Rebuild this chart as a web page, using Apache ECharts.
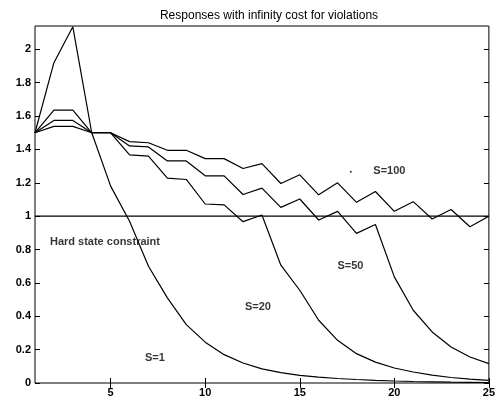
<!DOCTYPE html>
<html>
<head>
<meta charset="utf-8">
<script src="https://cdn.jsdelivr.net/npm/echarts@6/dist/echarts.min.js"></script>
<style>
  html, body { margin: 0; padding: 0; background: #fff; }
  #chart { width: 498px; height: 399px; }
</style>
</head>
<body>
<div id="chart"></div>
<script>
// time steps 1..25
var steps = [1,2,3,4,5,6,7,8,9,10,11,12,13,14,15,16,17,18,19,20,21,22,23,24,25];

var s1 = [1.5, 1.92, 2.135, 1.5, 1.18, 0.97, 0.70, 0.51, 0.35, 0.245, 0.17, 0.12, 0.085,
  0.062, 0.046, 0.035, 0.027, 0.021, 0.016, 0.012, 0.009, 0.007, 0.005, 0.004, 0.003];
var s20 = [1.5, 1.636, 1.636, 1.5, 1.5, 1.367, 1.36, 1.228, 1.22, 1.073, 1.068, 0.967, 1.007,
  0.706, 0.556, 0.376, 0.256, 0.176, 0.125, 0.09, 0.066, 0.047, 0.033, 0.023, 0.016];
var s50 = [1.5, 1.574, 1.574, 1.5, 1.5, 1.421, 1.415, 1.331, 1.331, 1.242, 1.242, 1.13, 1.168,
  1.053, 1.103, 0.977, 1.029, 0.897, 0.95, 0.636, 0.436, 0.306, 0.216, 0.156, 0.116];
var s100 = [1.5, 1.538, 1.538, 1.5, 1.5, 1.447, 1.44, 1.395, 1.395, 1.345, 1.345, 1.286, 1.315,
  1.196, 1.248, 1.128, 1.2, 1.083, 1.148, 1.029, 1.087, 0.983, 1.04, 0.937, 1.0];

var constraint = [[1, 1], [25, 1]];

var xTicks = [5, 10, 15, 20, 25];
var yTicks = [0, 0.2, 0.4, 0.6, 0.8, 1, 1.2, 1.4, 1.6, 1.8, 2];

// text annotations: [x, y, text]
var notes = [
  [1.79, 0.845, 'Hard state constraint'],
  [19.74, 1.27, 'S=100'],
  [17.68, 0.70, 'S=50'],
  [12.79, 0.455, 'S=20'],
  [7.34, 0.15, 'S=1']
];
var speck = [[17.7, 1.266]];

var chart = echarts.init(document.getElementById('chart'), null, { renderer: 'canvas' });

function pairs(ys) {
  return ys.map(function (v, i) { return [steps[i], v]; });
}

function line(name, ys) {
  return {
    name: name,
    type: 'line',
    data: pairs(ys),
    showSymbol: false,
    silent: true,
    lineStyle: { color: '#000', width: 1.2 }
  };
}

var font = 'Liberation Sans, Arial, sans-serif';

var baseX = {
  type: 'value', min: 1, max: 25,
  axisLine: { show: false },
  splitLine: { show: false },
  axisTick: { show: true, inside: true, length: 5, lineStyle: { color: '#000' }, customValues: xTicks }
};
var baseY = {
  type: 'value', min: 0, max: 2.14,
  axisLine: { show: false },
  splitLine: { show: false },
  axisTick: { show: true, inside: true, length: 5, lineStyle: { color: '#000' }, customValues: yTicks }
};

var option = {
  backgroundColor: '#fff',
  animation: false,
  title: {
    text: 'Responses with infinity cost for violations',
    left: 264, top: 5, textAlign: 'center',
    textStyle: { fontFamily: font, fontSize: 12, fontWeight: 'normal', color: '#000' }
  },
  grid: {
    left: 35, right: 8, top: 26, bottom: 16,
    show: true, borderColor: '#000', borderWidth: 1, backgroundColor: 'transparent'
  },
  xAxis: [
    Object.assign({}, baseX, {
      position: 'bottom',
      axisLabel: { customValues: xTicks, color: '#000', fontFamily: font, fontSize: 11, fontWeight: 'bold', margin: 4 }
    }),
    Object.assign({}, baseX, { position: 'top', axisLabel: { show: false } })
  ],
  yAxis: [
    Object.assign({}, baseY, {
      position: 'left',
      axisLabel: { customValues: yTicks, color: '#000', fontFamily: font, fontSize: 11, fontWeight: 'bold', margin: 4 }
    }),
    Object.assign({}, baseY, { position: 'right', axisLabel: { show: false } })
  ],
  series: [
    line('S=1', s1),
    line('S=20', s20),
    line('S=50', s50),
    line('S=100', s100),
    {
      name: 'constraint', type: 'line', data: constraint, showSymbol: false, silent: true,
      lineStyle: { color: '#000', width: 1.2 }
    },
    {
      name: 'notes', type: 'scatter', symbolSize: 0, silent: true,
      // the long constraint label is left-aligned at its point, the S= labels centred
      data: notes.map(function (n, i) {
        return i === 0 ? { value: n, label: { position: 'right', distance: 0 } } : { value: n };
      }),
      label: {
        show: true, position: 'inside',
        formatter: function (p) { return p.value[2]; },
        color: '#000', fontFamily: font, fontSize: 11, fontWeight: 'bold'
      }
    },
    {
      name: 'speck', type: 'scatter', data: speck, symbolSize: 2, silent: true,
      itemStyle: { color: '#000' }
    }
  ]
};

chart.setOption(option);
</script>
</body>
</html>
